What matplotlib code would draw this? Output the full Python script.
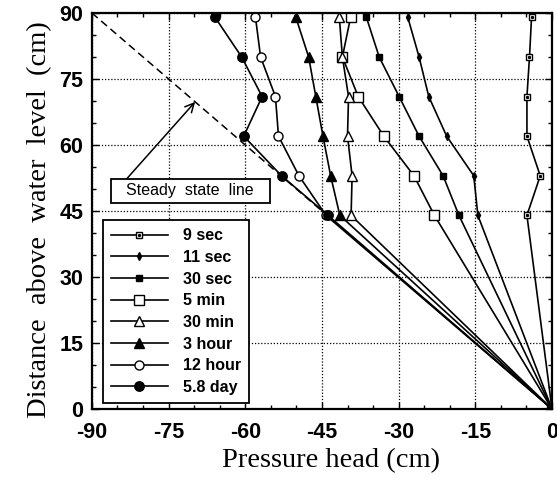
import matplotlib
matplotlib.use("Agg")
import matplotlib.pyplot as plt
from matplotlib.legend_handler import HandlerTuple
from matplotlib.patches import Rectangle
from matplotlib.ticker import MultipleLocator

# heights of the measuring points (cm above water level)
heights = [89, 80, 71, 62, 53, 44, 0]

# pressure head (cm) for each time step
p_9sec = [-4.0, -4.4, -4.9, -4.9, -2.3, -4.9, 0]
p_11sec = [-28.2, -26.0, -24.1, -20.6, -15.3, -14.5, 0]
p_30sec = [-36.3, -33.8, -29.9, -26.0, -21.3, -18.2, 0]
p_5min = [-39.4, -41.0, -37.9, -32.9, -27.0, -23.0, 0]
p_30min = [-41.6, -41.0, -39.8, -40.0, -39.1, -39.3, 0]
p_3hour = [-50.1, -47.6, -46.2, -44.8, -43.3, -41.5, 0]
p_12hour = [-58.0, -57.0, -54.1, -53.5, -49.5, -44.2, 0]
p_58day = [-65.9, -60.7, -56.7, -60.3, -52.9, -43.8, 0]

labels = ["9 sec", "11 sec", "30 sec", "5 min", "30 min", "3 hour", "12 hour", "5.8 day"]

steady_x = [-90, 0]
steady_y = [90, 0]

sans = "Liberation Sans"
serif = "Liberation Serif"
plt.rcParams["axes.unicode_minus"] = False

fig = plt.figure(figsize=(5.57, 4.78), dpi=100)
ax = fig.add_axes([0.165, 0.1444, 0.826, 0.8284])

lw = 1.2
kw = dict(color="black", lw=lw, markeredgecolor="black", markeredgewidth=1.0)

# steady state line
ax.plot(steady_x, steady_y, color="black", lw=1.1, ls=(0, (5, 3)))

h = []
l1, = ax.plot(p_9sec, heights, marker="s", ms=4.2, mfc="white", **kw)
l1b, = ax.plot(p_9sec, heights, ls="none", marker="s", ms=1.2, mfc="black",
               markeredgecolor="black")
h.append((l1, l1b))
l2, = ax.plot(p_11sec, heights, marker="d", ms=4.0, mfc="black", **kw)
h.append(l2)
l3, = ax.plot(p_30sec, heights, marker="s", ms=5.0, mfc="black", **kw)
h.append(l3)
l4, = ax.plot(p_5min, heights, marker="s", ms=7.0, mfc="white", **kw)
h.append(l4)
l5, = ax.plot(p_30min, heights, marker="^", ms=6.5, mfc="white", **kw)
h.append(l5)
l6, = ax.plot(p_3hour, heights, marker="^", ms=6.5, mfc="black", **kw)
h.append(l6)
l7, = ax.plot(p_12hour, heights, marker="o", ms=6.5, mfc="white", **kw)
h.append(l7)
l8, = ax.plot(p_58day, heights, marker="o", ms=6.8, mfc="black", **kw)
h.append(l8)

ax.set_xlim(-90, 0)
ax.set_ylim(0, 90)
ax.xaxis.set_major_locator(MultipleLocator(15))
ax.yaxis.set_major_locator(MultipleLocator(15))
ax.xaxis.set_minor_locator(MultipleLocator(5))
ax.yaxis.set_minor_locator(MultipleLocator(5))
ax.tick_params(which="both", direction="in", top=True, right=True, width=1.0)
ax.tick_params(which="major", length=5, labelsize=15.5)
ax.tick_params(axis="x", which="major", pad=9.5)
ax.tick_params(axis="y", which="major", pad=6)
ax.tick_params(which="minor", length=3)
for lab in ax.get_xticklabels() + ax.get_yticklabels():
    lab.set_fontfamily(sans)
    lab.set_fontweight("bold")
ax.grid(True, which="major", color="black", lw=0.9, ls=(0, (1, 1.5)))
for s in ax.spines.values():
    s.set_linewidth(1.6)

ax.set_xlabel("Pressure head (cm)", fontfamily=serif, fontsize=20.5)
ax.set_ylabel("Distance  above  water  level  (cm)", fontfamily=serif, fontsize=20.5)
ax.xaxis.set_label_coords(0.52, -0.098)
ax.yaxis.set_label_coords(-0.086, 0.477)

# annotation for the steady state line
ax.add_patch(Rectangle((-86.3, 46.9), 31.1, 5.4, fc="white", ec="black",
                       lw=1.3, zorder=5))
ax.text(-70.8, 49.6, "Steady  state  line", fontfamily=sans, fontsize=11.5,
        ha="center", va="center", zorder=6)
ax.annotate("", xy=(-69.8, 69.8), xytext=(-83.2, 52.3),
            arrowprops=dict(arrowstyle="->", color="black", lw=1.1,
                            mutation_scale=16, shrinkA=0, shrinkB=0))

leg = ax.legend(h, labels, loc="lower left", bbox_to_anchor=(0.024, 0.015),
                borderaxespad=0, fancybox=False, framealpha=1, edgecolor="black",
                handlelength=3.56, handletextpad=0.95, labelspacing=0.42,
                borderpad=0.5, handler_map={tuple: HandlerTuple(ndivide=1)},
                prop={"family": sans, "size": 11.5, "weight": "bold"})
leg.get_frame().set_linewidth(1.3)

fig.savefig("out.png", dpi=100)
